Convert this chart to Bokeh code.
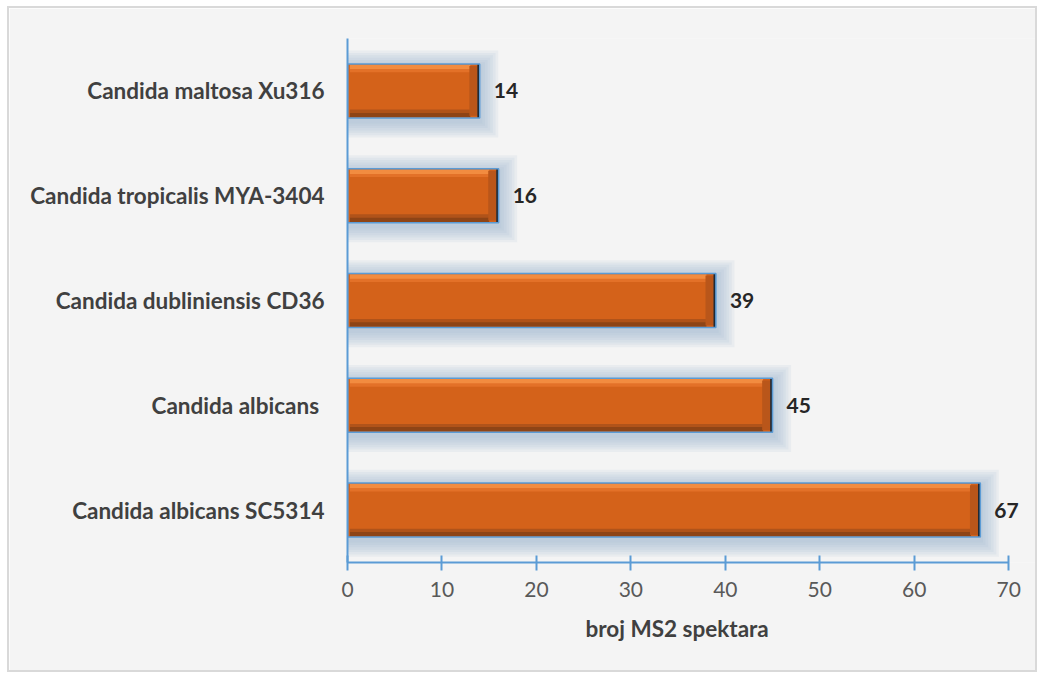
from bokeh.plotting import figure
from bokeh.models import ColumnDataSource, FactorRange, Range1d, InlineStyleSheet, Title
from bokeh.transform import dodge
from bokeh.core.properties import value
from bokeh.embed import file_html
from bokeh.resources import INLINE

# data (bottom to top)
species = ["Candida albicans SC5314", "Candida albicans ", "Candida dubliniensis CD36",
           "Candida tropicalis MYA-3404", "Candida maltosa Xu316"]
counts = [67, 45, 39, 16, 14]
x_ticks = [0, 10, 20, 30, 40, 50, 60, 70]
x_title = "broj MS2 spektara"

src = ColumnDataSource(dict(cat=species, val=counts, lab=[str(v) for v in counts]))

BG = "#F4F4F4"
BAR_H = 0.515

p = figure(width=1030, height=666, output_backend="svg", toolbar_location=None,
           y_range=FactorRange(factors=species, range_padding=0),
           x_range=Range1d(0, 73.05),
           min_border_left=338, min_border_right=2, min_border_top=30, min_border_bottom=112)
p.stylesheets = [InlineStyleSheet(css=":host { border: 2px solid #D9D9D9; margin: 6px 0 0 7px; }")]
p.background_fill_color = BG
p.border_fill_color = BG
p.outline_line_color = None
p.grid.grid_line_color = None

# glow behind bars
for k in range(7, 0, -1):
    p.hbar(y=dodge("cat", -0.03, range=p.y_range), left=0, right=dodge("val", 0.28 * k),
           height=BAR_H + 0.045 * k, source=src, fill_color="#9FB5CD", fill_alpha=0.12,
           line_color=None)

# main bar
p.hbar(y="cat", left=0, right="val", height=BAR_H, source=src,
       fill_color="#D4621A", line_color=None)
# top highlight
p.hbar(y=dodge("cat", BAR_H / 2 - 0.03, range=p.y_range), left=0.25, right=dodge("val", -1.0),
       height=0.045, source=src, fill_color="#F28C40", line_color=None)
p.hbar(y=dodge("cat", BAR_H / 2 - 0.065, range=p.y_range), left=0.25, right=dodge("val", -1.0),
       height=0.03, source=src, fill_color="#E37128", line_color=None)
# bottom shade
p.hbar(y=dodge("cat", -BAR_H / 2 + 0.03, range=p.y_range), left=0.25, right=dodge("val", -1.0),
       height=0.045, source=src, fill_color="#8E4416", line_color=None)
p.hbar(y=dodge("cat", -BAR_H / 2 + 0.065, range=p.y_range), left=0.25, right=dodge("val", -1.0),
       height=0.03, source=src, fill_color="#B0531A", line_color=None)
# right bevel
p.hbar(y="cat", left=dodge("val", -1.1), right="val", height=BAR_H - 0.04, source=src,
       fill_color="#B9561A", line_color=None)
p.hbar(y="cat", left=dodge("val", -0.25), right="val", height=BAR_H, source=src,
       fill_color="#1E2A36", line_color=None)
# outline
p.hbar(y="cat", left=0, right="val", height=BAR_H, source=src,
       fill_color=None, line_color="#5B9BD5", line_width=1.5)

# value labels
p.text(x="val", y="cat", text="lab", source=src, x_offset=14, text_baseline="middle",
       text_align="left", text_font=value("Lato"), text_font_style="bold",
       text_font_size="21px", text_color="#262626")

# axes
p.xaxis.ticker = x_ticks
p.xaxis.bounds = (0, 70)
p.xaxis.axis_line_color = "#5B9BD5"
p.xaxis.axis_line_width = 2
p.xaxis.major_tick_line_color = "#5B9BD5"
p.xaxis.major_tick_line_width = 2
p.xaxis.major_tick_in = 7
p.xaxis.major_tick_out = 8
p.xaxis.minor_tick_line_color = None
p.xaxis.major_label_text_font = "Lato"
p.xaxis.major_label_text_font_size = "21px"
p.xaxis.major_label_text_color = "#595959"
p.xaxis.major_label_standoff = 11

# x axis title, placed under the 0..70 axis
p.add_layout(Title(text=x_title, align="left", offset=238, standoff=26,
                   text_font="Lato", text_font_style="bold", text_font_size="22.5px",
                   text_color="#404040"), "below")

p.yaxis.axis_line_color = "#5B9BD5"
p.yaxis.axis_line_width = 2
p.yaxis.major_tick_line_color = None
p.yaxis.minor_tick_line_color = None
p.yaxis.major_label_text_font = "Lato"
p.yaxis.major_label_text_font_style = "bold"
p.yaxis.major_label_text_font_size = "22.5px"
p.yaxis.major_label_text_color = "#404040"
p.yaxis.major_label_standoff = 17

open("out.html", "w").write(file_html(p, INLINE))
